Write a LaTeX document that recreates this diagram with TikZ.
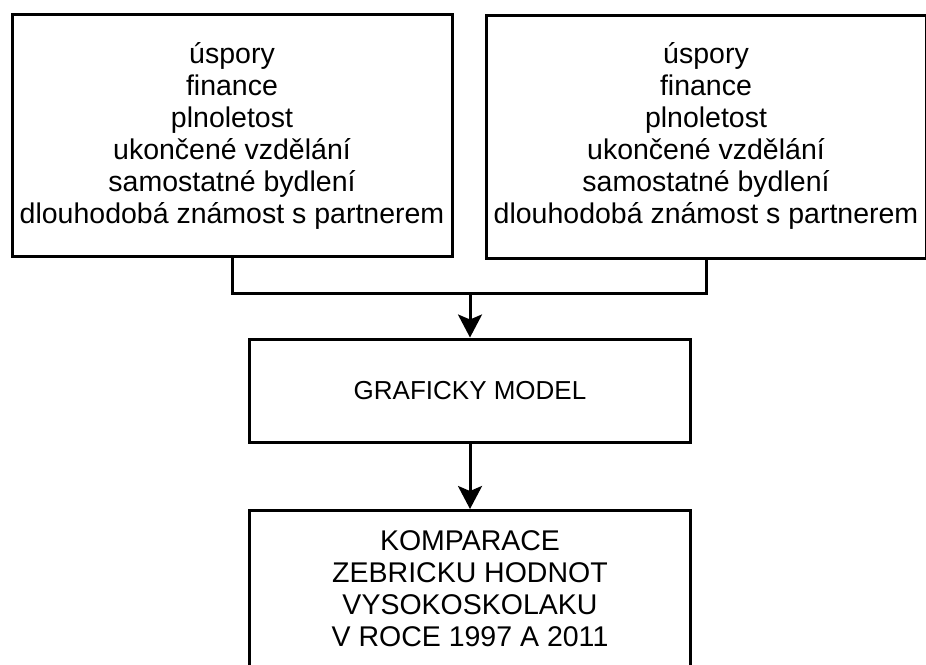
\documentclass[tikz,border=0pt]{standalone}
\usepackage{fontspec}
\setmainfont{Liberation Sans}
\usetikzlibrary{arrows.meta}

\tikzset{
  box/.style={draw=black, line width=3pt, fill=white, inner sep=0pt},
  label text/.style={align=center, inner sep=0pt,
    font=\fontsize{28.5pt}{32pt}\selectfont},
  link/.style={draw=black, line width=3pt},
  flow/.style={link, -{Stealth[length=23pt, width=24pt, inset=5pt]}}
}

\begin{document}
\begin{tikzpicture}[x=1pt, y=1pt]
  % page frame
  \useasboundingbox (0,0) rectangle (926,-664);
  \fill[white] (0,0) rectangle (926,-664);

  % two input boxes with the criteria lists
  \node[box, minimum width=440pt, minimum height=242pt] (left) at (232,-135) {};
  \node[label text] (lefttxt) at (232,-136) {úspory\\finance\\plnoletost\\ukončené vzdělání\\samostatné bydlení\\dlouhodobá známost s partnerem};

  \node[box, minimum width=440pt, minimum height=243pt] (right) at (706,-136.5) {};
  \node[label text] (righttxt) at (706,-136) {úspory\\finance\\plnoletost\\ukončené vzdělání\\samostatné bydlení\\dlouhodobá známost s partnerem};

  % middle box
  \node[box, minimum width=441pt, minimum height=103pt] (model) at (470,-390.5) {};
  \node[label text, font=\fontsize{26pt}{32pt}\selectfont] (modeltxt) at (model.center) {GRAFICKY MODEL};

  % bottom box, running past the lower page edge
  \node[box, anchor=north, minimum width=441pt, minimum height=200pt] (komp) at (470,-509) {};
  \node[label text, anchor=north] (komptxt) at ([yshift=-21pt]komp.north) {KOMPARACE\\ZEBRICKU HODNOT\\VYSOKOSKOLAKU\\V ROCE 1997 A 2011};

  % merging connector from both input boxes
  \coordinate (join) at (470,-293);
  \draw[link] (left.south) |- (join) -| (right.south);
  \draw[flow] (join) -- (model.north);
  \draw[flow] (model.south) -- (komp.north);
\end{tikzpicture}
\end{document}
